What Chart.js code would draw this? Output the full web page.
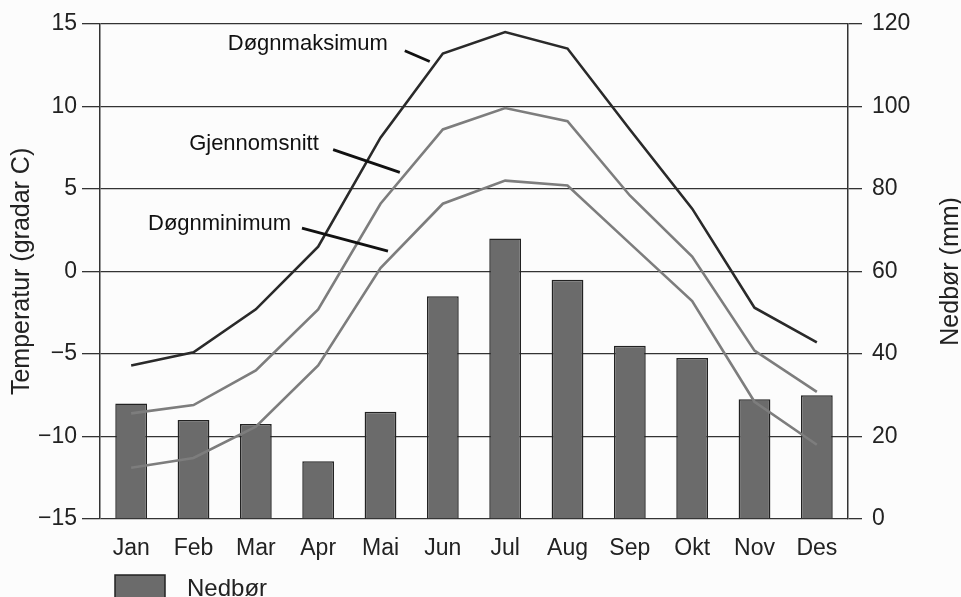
<!DOCTYPE html>
<html>
<head>
<meta charset="utf-8">
<script src="https://cdn.jsdelivr.net/npm/chart.js@4/dist/chart.umd.min.js"></script>
<style>
  html, body { margin: 0; padding: 0; background: #fcfcfc; }
  canvas { display: block; }
</style>
</head>
<body>
<canvas id="klima" width="961" height="597"></canvas>
<script>
// data
var months = ["Jan", "Feb", "Mar", "Apr", "Mai", "Jun", "Jul", "Aug", "Sep", "Okt", "Nov", "Des"];
var nedbor = [28, 24, 23, 14, 26, 54, 68, 58, 42, 39, 29, 30];           // mm
var dognMaks = [-5.7, -4.9, -2.3, 1.5, 8.1, 13.2, 14.5, 13.5, 8.6, 3.8, -2.2, -4.3];
var snitt = [-8.6, -8.1, -6.0, -2.3, 4.1, 8.6, 9.9, 9.1, 4.6, 0.9, -4.8, -7.3];
var dognMin = [-11.9, -11.3, -9.4, -5.7, 0.2, 4.1, 5.5, 5.2, 1.7, -1.8, -7.9, -10.5];
var tempTicks = [-15, -10, -5, 0, 5, 10, 15];
var nedborTicks = [0, 20, 40, 60, 80, 100, 120];

// labels with leader lines: [text, textIdx, textTemp, fromIdx, fromTemp, toIdx, toTemp]
var labels = [
  ["Døgnmaksimum", 1.55, 13.43, 4.39, 13.37, 4.79, 12.72],
  ["Gjennomsnitt", 0.93, 7.38, 3.24, 7.38, 4.31, 6.0],
  ["Døgnminimum", 0.27, 2.48, 2.74, 2.62, 4.12, 1.23]
];

var FONT = "'Liberation Sans', Arial, Helvetica, sans-serif";
var INK = "#222";
var minus = function (v) { return v < 0 ? "\u2212" + Math.abs(v) : "" + v; };

var extras = {
  id: "extras",
  beforeDraw: function (chart) {
    var c = chart.ctx;
    c.save();
    c.fillStyle = "#fcfcfc";
    c.fillRect(0, 0, chart.width, chart.height);
    c.restore();
  },
  afterDraw: function (chart) {
    var c = chart.ctx, x = chart.scales.x, y = chart.scales.y;
    var px = function (i) { return x.getPixelForValue(0) + i * (x.getPixelForValue(1) - x.getPixelForValue(0)); };
    c.save();
    // annotation labels
    c.fillStyle = "#111";
    c.strokeStyle = "#111";
    c.lineWidth = 2.8;
    c.font = "22px " + FONT;
    c.textBaseline = "alphabetic";
    labels.forEach(function (l) {
      c.fillText(l[0], px(l[1]), y.getPixelForValue(l[2]));
      c.beginPath();
      c.moveTo(px(l[3]), y.getPixelForValue(l[4]));
      c.lineTo(px(l[5]), y.getPixelForValue(l[6]));
      c.stroke();
    });
    // right axis title, reads bottom to top
    var r = chart.scales.y1;
    c.translate(951, (r.top + r.bottom) / 2);
    c.rotate(-Math.PI / 2);
    c.textAlign = "center";
    c.textBaseline = "middle";
    c.fillStyle = INK;
    c.font = "25px " + FONT;
    c.fillText("Nedbør (mm)", 0, 0);
    c.restore();
    // legend
    c.save();
    c.fillStyle = "#6b6b6b";
    c.strokeStyle = INK;
    c.lineWidth = 1.5;
    c.fillRect(115, 575, 50, 26);
    c.strokeRect(115, 575, 50, 26);
    c.fillStyle = INK;
    c.font = "24px " + FONT;
    c.textBaseline = "alphabetic";
    c.fillText("Nedbør", 187, 596);
    c.restore();
  }
};

new Chart(document.getElementById("klima"), {
  data: {
    labels: months,
    datasets: [
      { type: "line", label: "Døgnmaksimum", data: dognMaks, yAxisID: "y", order: 0,
        borderColor: "#2a2a2a", borderWidth: 2.6, pointRadius: 0, tension: 0 },
      { type: "line", label: "Gjennomsnitt", data: snitt, yAxisID: "y", order: 0,
        borderColor: "#7d7d7d", borderWidth: 2.6, pointRadius: 0, tension: 0 },
      { type: "line", label: "Døgnminimum", data: dognMin, yAxisID: "y", order: 0,
        borderColor: "#7d7d7d", borderWidth: 2.6, pointRadius: 0, tension: 0 },
      { type: "bar", label: "Nedbør", data: nedbor, yAxisID: "y1", order: 1,
        backgroundColor: "#6b6b6b", borderColor: INK, borderWidth: 1.5,
        barPercentage: 0.51, categoryPercentage: 1 }
    ]
  },
  options: {
    responsive: false,
    animation: false,
    layout: { padding: { top: 23, left: 0, right: 0, bottom: 0 } },
    plugins: { legend: { display: false }, tooltip: { enabled: false } },
    scales: {
      x: {
        grid: { display: false, drawTicks: false },
        border: { display: false },
        ticks: { color: INK, font: { family: FONT, size: 23 }, padding: 16, maxRotation: 0 },
        afterFit: function (s) { s.height = 78; }
      },
      y: {
        position: "left",
        min: -15, max: 15,
        afterBuildTicks: function (s) { s.ticks = tempTicks.map(function (v) { return { value: v }; }); },
        grid: { color: "#333", lineWidth: 1.3, tickLength: 18 },
        border: { color: "#333", width: 1.5 },
        ticks: { color: INK, font: { family: FONT, size: 23 }, padding: 5, callback: minus },
        title: { display: true, text: "Temperatur (gradar C)", color: INK,
                 font: { family: FONT, size: 25 }, padding: { top: 7, bottom: 0 } },
        afterFit: function (s) { s.width = 100; }
      },
      y1: {
        position: "right",
        min: 0, max: 120,
        afterBuildTicks: function (s) { s.ticks = nedborTicks.map(function (v) { return { value: v }; }); },
        grid: { drawOnChartArea: false, color: "#333", lineWidth: 1.3, tickLength: 14 },
        border: { color: "#333", width: 1.5 },
        ticks: { color: INK, font: { family: FONT, size: 23 }, padding: 10 },
        afterFit: function (s) { s.width = 113; }
      }
    }
  },
  plugins: [extras]
});
</script>
</body>
</html>
